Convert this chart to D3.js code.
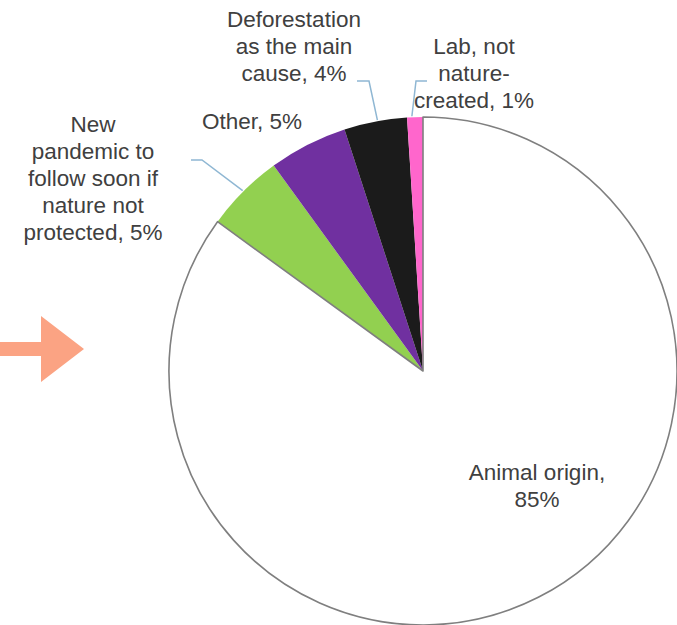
<!DOCTYPE html>
<html>
<head>
<meta charset="utf-8">
<script src="https://cdn.jsdelivr.net/npm/d3@7"></script>
<style>
  html, body { margin: 0; padding: 0; background: #ffffff; }
  svg { display: block; }
  text { font-family: "Liberation Sans", Arial, sans-serif; fill: #404040; }
</style>
</head>
<body>
<svg id="chart" width="677" height="625"></svg>
<script>
// Views on where the virus came from (share of answers, %)
const categories = [
  "Animal origin",
  "New pandemic to follow soon if nature not protected",
  "Other",
  "Deforestation as the main cause",
  "Lab, not nature-created"
];
const values = [85, 5, 5, 4, 1];
const colors = ["#ffffff", "#92d050", "#7030a0", "#1b1b1b", "#ff66cc"];

// Label lines as they are wrapped on the page
const labelLines = [
  ["Animal origin,", "85%"],
  ["New", "pandemic to", "follow soon if", "nature not", "protected, 5%"],
  ["Other, 5%"],
  ["Deforestation", "as the main", "cause, 4%"],
  ["Lab, not", "nature-", "created, 1%"]
];

// Layout: label anchor (centre x, first baseline) and leader elbows
const layout = [
  { x: 537, y: 480, leader: null },
  { x: 93,  y: 132, leader: { from: [191, 160], elbow: [202, 160], angle: 315 } },
  { x: 252, y: 129, leader: null },
  { x: 294, y: 27,  leader: { from: [357, 81], elbow: [369, 81], angle: 349.7 } },
  { x: 474, y: 54,  leader: { from: [427, 81], elbow: [416, 81], angle: 357.5 } }
];

const svg = d3.select("#chart");
const cx = 423, cy = 371, R = 254;
const lineH = 27;

// Arrow pointing towards the pie
const arrow = d3.path();
arrow.moveTo(0, 342);
arrow.lineTo(41, 342);
arrow.lineTo(41, 316);
arrow.lineTo(84, 349);
arrow.lineTo(41, 382);
arrow.lineTo(41, 356);
arrow.lineTo(0, 356);
arrow.closePath();
svg.append("path").attr("d", arrow.toString()).attr("fill", "#fba383");

const pie = d3.pie().sort(null).value(d => d)(values);
const arc = d3.arc().innerRadius(0).outerRadius(R);

const g = svg.append("g").attr("transform", `translate(${cx},${cy})`);

// Coloured slices first, outlined white slice on top
const order = pie.map((p, i) => i).filter(i => i !== 0).concat([0]);
g.selectAll("path.slice")
  .data(order.map(i => ({ p: pie[i], i })))
  .join("path")
  .attr("class", "slice")
  .attr("d", d => arc(d.p))
  .attr("fill", d => colors[d.i])
  .attr("stroke", d => d.i === 0 ? "#7f7f7f" : "none")
  .attr("stroke-width", d => d.i === 0 ? 1.6 : 0)
  .attr("stroke-linejoin", "round");

// Leader lines
layout.forEach((L, i) => {
  if (!L.leader) return;
  const a = L.leader.angle * Math.PI / 180;
  const end = [cx + (R + 1) * Math.sin(a), cy - (R + 1) * Math.cos(a)];
  svg.append("path")
    .attr("d", d3.line()([L.leader.from, L.leader.elbow, end]))
    .attr("fill", "none")
    .attr("stroke", "#8fb7d3")
    .attr("stroke-width", 1.5);
});

// Labels
labelLines.forEach((lines, i) => {
  const t = svg.append("text")
    .attr("text-anchor", "middle")
    .attr("font-size", 22.5);
  lines.forEach((s, k) => {
    t.append("tspan")
      .attr("x", layout[i].x)
      .attr("y", layout[i].y + k * lineH)
      .text(s);
  });
});
</script>
</body>
</html>
